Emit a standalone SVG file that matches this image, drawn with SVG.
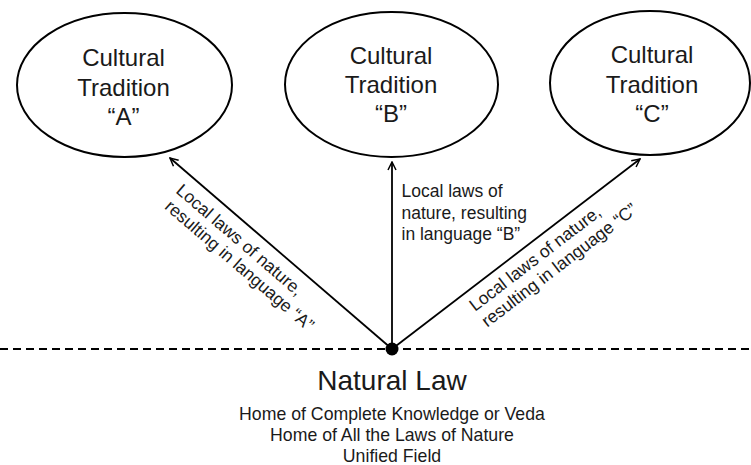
<svg xmlns="http://www.w3.org/2000/svg" width="751" height="465" viewBox="0 0 751 465">
<style>
text{font-family:"Liberation Sans",Arial,sans-serif;fill:#1a1a1a}
.node ellipse{fill:#fff;stroke:#000;stroke-width:2}
.title{font-size:24px;text-anchor:middle}
.lbl{font-size:17.5px}
.conn line{stroke:#000;stroke-width:1.8}
</style>
<defs>
<marker id="arr" viewBox="0 0 10 10" refX="9" refY="5" markerWidth="10" markerHeight="10" markerUnits="userSpaceOnUse" orient="auto">
<path d="M1,1 L9,5 L1,9" fill="none" stroke="#000" stroke-width="1.5"/>
</marker>
</defs>
<rect width="751" height="465" fill="#fff"/>
<g id="baseline">
<line x1="0" y1="349" x2="751" y2="349" stroke="#000" stroke-width="2" stroke-dasharray="8 5"/>
</g>
<g id="nodeA" class="node">
<ellipse cx="124.5" cy="85" rx="107.5" ry="72"/>
<text class="title" x="123.5" y="66">Cultural</text>
<text class="title" x="123.5" y="96">Tradition</text>
<text class="title" x="123.5" y="125">“A”</text>
</g>
<g id="nodeB" class="node">
<ellipse cx="391.5" cy="84.5" rx="106.5" ry="72.5"/>
<text class="title" x="391" y="64">Cultural</text>
<text class="title" x="391" y="93">Tradition</text>
<text class="title" x="391" y="122">“B”</text>
</g>
<g id="nodeC" class="node">
<ellipse cx="650" cy="83" rx="100" ry="72"/>
<text class="title" x="652" y="63">Cultural</text>
<text class="title" x="652" y="93">Tradition</text>
<text class="title" x="652" y="122">“C”</text>
</g>
<g id="connectors" class="conn">
<line x1="392" y1="349" x2="170" y2="158" marker-end="url(#arr)"/>
<line x1="392" y1="349" x2="392" y2="162" marker-end="url(#arr)"/>
<line x1="392" y1="349" x2="640" y2="159" marker-end="url(#arr)"/>
<text class="lbl" transform="translate(175,192) rotate(40.7)"><tspan x="0" y="0">Local laws of nature,</tspan><tspan x="2" y="19.5">resulting in language “A”</tspan></text>
<text class="lbl"><tspan x="401.5" y="197">Local laws of</tspan><tspan x="401.5" y="218.5">nature, resulting</tspan><tspan x="401.5" y="240">in language “B”</tspan></text>
<text class="lbl" transform="translate(475,312) rotate(-37.5)"><tspan x="0" y="0">Local laws of nature,</tspan><tspan x="0" y="20">resulting in language “C”</tspan></text>
</g>
<g id="naturalLaw">
<circle cx="392" cy="349" r="6.5" fill="#000"/>
<text x="392" y="390" font-size="28" text-anchor="middle">Natural Law</text>
<text font-size="17.7" text-anchor="middle"><tspan x="392" y="420">Home of Complete Knowledge or Veda</tspan><tspan x="392" y="441">Home of All the Laws of Nature</tspan><tspan x="392" y="462">Unified Field</tspan></text>
</g>
</svg>
